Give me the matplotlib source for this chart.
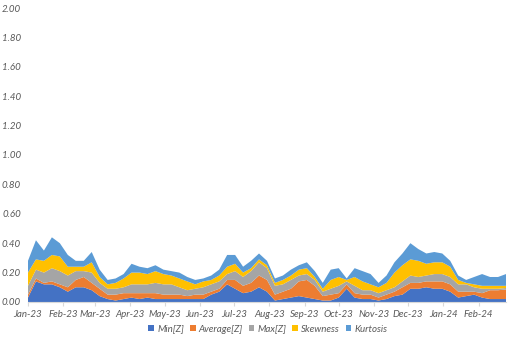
import matplotlib
matplotlib.use('Agg')
import matplotlib.pyplot as plt
import matplotlib.dates as mdates
from matplotlib.patches import Patch
import pandas as pd

plt.rcParams['font.family'] = ['Lato', 'DejaVu Sans']

# weekly samples, Jan 2023 - Feb 2024
dates = pd.date_range('2023-01-01', periods=61, freq='7D')

min_z = [.03, .14, .12, .12, .10, .07, .10, .10, .08, .04,
         .02, .01, .02, .03, .02, .03, .02, .02, .02, .02,
         .02, .02, .02, .05, .07, .12, .09, .06, .07, .10,
         .07, .01, .02, .03, .04, .03, .02, .01, .01, .03,
         .09, .03, .02, .02, .01, .02, .04, .05, .09, .09,
         .10, .09, .09, .07, .03, .04, .05, .03, .02, .02, .02]
avg_z = [.02, .02, .01, .02, .02, .03, .05, .07, .05, .05,
         .03, .04, .04, .03, .04, .03, .04, .03, .03, .03,
         .02, .03, .03, .02, .02, .03, .06, .05, .06, .08,
         .08, .04, .05, .06, .10, .12, .09, .03, .04, .03,
         .03, .03, .03, .03, .02, .03, .03, .05, .04, .04,
         .04, .05, .05, .05, .04, .03, .02, .03, .06, .06, .065]
max_z = [.06, .06, .07, .09, .09, .08, .06, .04, .07, .04,
         .04, .04, .04, .06, .06, .06, .07, .07, .07, .05,
         .04, .04, .05, .05, .05, .04, .06, .06, .08, .09,
         .08, .06, .05, .06, .04, .04, .04, .03, .04, .05,
         .02, .05, .03, .03, .03, .03, .03, .04, .05, .04,
         .04, .05, .05, .05, .05, .05, .03, .03, .01, .01, .01]
skewness = [.09, .07, .08, .09, .10, .06, .03, .03, .07, .04,
            .03, .04, .06, .08, .08, .07, .08, .07, .06, .06,
            .06, .03, .04, .03, .04, .05, .05, .03, .02, .02,
            .02, .02, .03, .03, .04, .04, .02, .02, .06, .06,
            .01, .06, .06, .04, .04, .05, .10, .11, .11, .11,
            .08, .08, .08, .07, .03, .01, .02, .02, .02, .02, .015]
kurtosis = [.08, .13, .07, .12, .09, .08, .04, .04, .07, .05,
            .03, .03, .03, .06, .04, .04, .04, .03, .03, .04,
            .03, .03, .02, .03, .04, .08, .06, .04, .05, .04,
            .03, .03, .03, .04, .03, .04, .04, .04, .07, .06,
            .01, .06, .07, .07, .03, .05, .07, .08, .11, .08,
            .07, .07, .06, .04, .03, .02, .05, .08, .06, .06, .08]

labels = ['Min[Z]', 'Average[Z]', 'Max[Z]', 'Skewness', 'Kurtosis']
colors = ['#4472C4', '#ED7D31', '#A5A5A5', '#FFC000', '#5B9BD5']
TEXT = '#595959'

fig = plt.figure(figsize=(5.23, 3.42), dpi=100)
ax = fig.add_axes([0.0535, 0.117, 0.914, 0.8596])

ax.stackplot(dates, min_z, avg_z, max_z, skewness, kurtosis,
             colors=colors, linewidth=0)

ax.set_ylim(0, 2.0)
ax.set_yticks([i * 0.2 for i in range(11)])
ax.yaxis.set_major_formatter(matplotlib.ticker.FormatStrFormatter('%.2f'))
ax.set_xlim(pd.Timestamp('2023-01-01'), pd.Timestamp('2024-02-25'))
ax.xaxis.set_major_locator(mdates.MonthLocator())
ax.xaxis.set_major_formatter(mdates.DateFormatter('%b-%y'))

for s in ['top', 'right', 'left']:
    ax.spines[s].set_visible(False)
ax.spines['bottom'].set_color('#D9D9D9')
ax.spines['bottom'].set_linewidth(0.8)
ax.tick_params(axis='y', length=0, labelsize=7, labelcolor=TEXT, pad=5)
ax.tick_params(axis='x', length=3, color='#D9D9D9', labelsize=7, labelcolor=TEXT, pad=3)
for t in ax.get_xticklabels() + ax.get_yticklabels():
    t.set_fontstyle('italic')

handles = [Patch(facecolor=c, edgecolor='none') for c in colors]
leg = fig.legend(handles, labels, loc='center', bbox_to_anchor=(0.512, 0.038),
                 ncol=5, frameon=False, fontsize=7, handlelength=0.6,
                 handleheight=0.6, handletextpad=0.3, columnspacing=0.6)
for t in leg.get_texts():
    t.set_color(TEXT)
    t.set_fontstyle('italic')

fig.savefig('out.png', dpi=100, facecolor='white')
